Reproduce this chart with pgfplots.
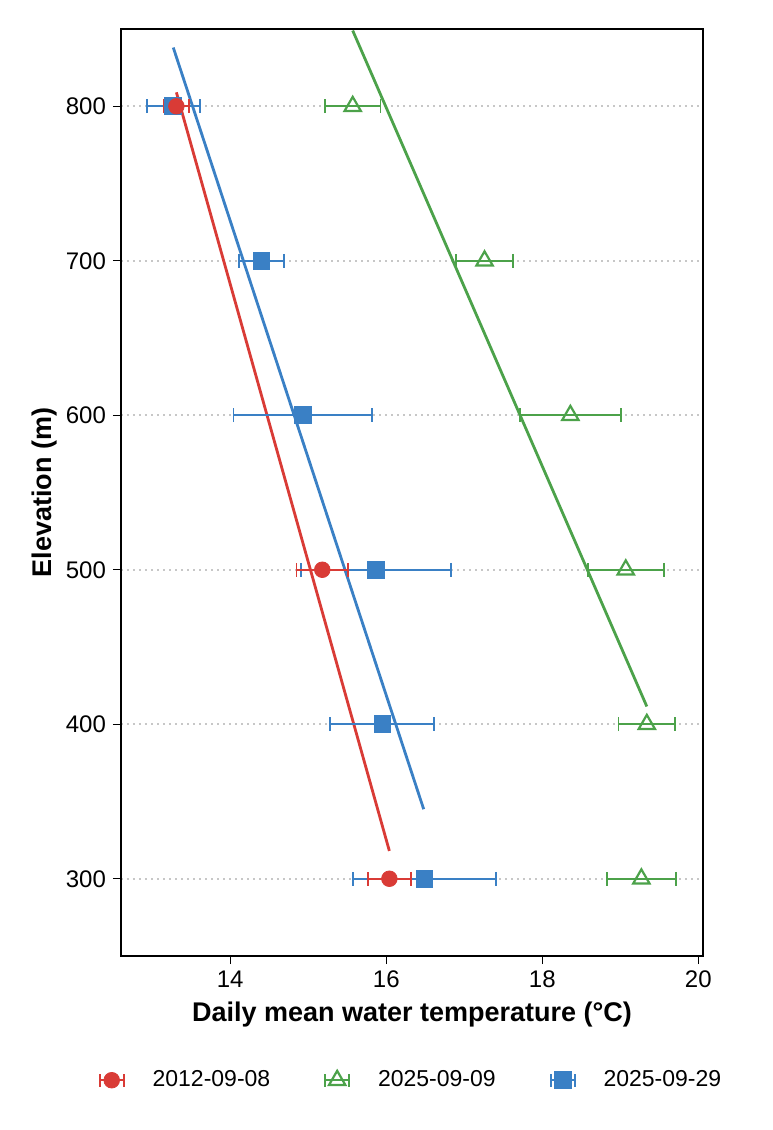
\documentclass[border=0pt]{standalone}
\usepackage{pgfplots}
\pgfplotsset{compat=1.18}
\usepackage{fontspec}
\setmainfont{Liberation Sans}
\definecolor{cred}{HTML}{D93B36}
\definecolor{cblue}{HTML}{3A80C5}
\definecolor{cgreen}{HTML}{4CA24A}

\pgfplotstableread{
y x ex
800 13.31 0.16
500 15.18 0.33
300 16.04 0.275
}\tblred
\pgfplotstableread{
y x ex
800 13.27 0.34
700 14.40 0.29
600 14.93 0.887
500 15.87 0.964
400 15.95 0.666
300 16.49 0.917
}\tblblue
\pgfplotstableread{
y x ex
800 15.57 0.357
700 17.26 0.362
600 18.36 0.647
500 19.07 0.487
400 19.34 0.362
300 19.27 0.44
}\tblgreen

\begin{document}
\begin{tikzpicture}
\path[use as bounding box] (0,0) rectangle (386pt,565pt);
\begin{axis}[
  at={(60.5pt,87pt)}, anchor=south west,
  scale only axis, width=291pt, height=463.5pt,
  xmin=12.6, xmax=20.06, ymin=250, ymax=850,
  xtick={14,16,18,20}, ytick={300,400,500,600,700,800},
  xtick pos=bottom, ytick pos=left, tick align=outside,
  major tick length=4pt,
  tick style={black, line width=0.6pt},
  axis line style={black, line width=0.6pt},
  ymajorgrids, grid style={black!22, line width=0.8pt, dash pattern=on 0.8pt off 2.2pt},
  ticklabel style={font=\fontsize{12}{14}\selectfont},
  /pgf/number format/assume math mode=true,
  xlabel={\textbf{Daily mean water temperature (°C)}},
  ylabel={\textbf{Elevation (m)}},
  label style={font=\fontsize{13.5}{16}\selectfont},
  ylabel style={yshift=-2.5pt},
  reverse legend,
  legend columns=3,
  legend style={at={(0.50,-0.134)}, anchor=center, draw=none, fill=none,
    font=\fontsize{11.5}{13}\selectfont,
    /tikz/every odd column/.append style={column sep=12pt},
    /tikz/every even column/.append style={column sep=25pt}},
  legend image code/.code={
    \draw[#1, mark=none, solid, line width=0.9pt] (0pt,0pt) -- (12pt,0pt) (0pt,-3.2pt) -- (0pt,3.2pt) (12pt,-3.2pt) -- (12pt,3.2pt);
    \draw[#1] plot coordinates {(6pt,0pt)};
  },
]
% regression lines
\addplot[cred, line width=1.4pt, forget plot] coordinates {(13.31,809) (16.04,318)};
\addplot[cblue, line width=1.4pt, forget plot] coordinates {(13.27,838) (16.48,345)};
\addplot[cgreen, line width=1.4pt, forget plot] coordinates {(15.57,849) (19.34,411.5)};
% blue
\addplot[cblue, only marks, mark=square*, mark size=4.2pt, mark options={solid, fill=cblue},
  error bars/.cd, x dir=both, x explicit, error mark=|,
  error bar style={line width=0.9pt, cblue},
  error mark options={line width=0.9pt, mark size=3.4pt, cblue}]
  table[x=x, y=y, x error=ex] {\tblblue};
\addlegendentry{2025-09-29}
% green
\addplot[cgreen, only marks, mark=triangle, mark size=4.7pt, mark options={solid, fill=white, line width=1.1pt},
  error bars/.cd, x dir=both, x explicit, error mark=|,
  error bar style={line width=0.9pt, cgreen},
  error mark options={line width=0.9pt, mark size=3.4pt, cgreen}]
  table[x=x, y=y, x error=ex] {\tblgreen};
\addlegendentry{2025-09-09}
% red
\addplot[cred, only marks, mark=*, mark size=3.9pt, mark options={solid, fill=cred},
  error bars/.cd, x dir=both, x explicit, error mark=|,
  error bar style={line width=0.9pt, cred},
  error mark options={line width=0.9pt, mark size=3.4pt, cred}]
  table[x=x, y=y, x error=ex] {\tblred};
\addlegendentry{2012-09-08}
\end{axis}
\end{tikzpicture}
\end{document}
